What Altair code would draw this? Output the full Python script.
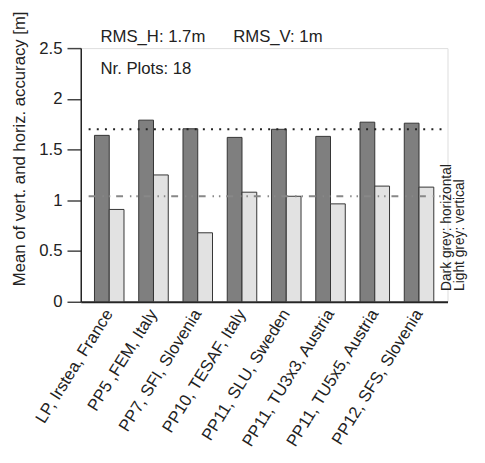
import altair as alt
import pandas as pd

sites = ["LP, Irstea, France", "PP5 ,FEM, Italy", "PP7, SFI, Slovenia", "PP10, TESAF, Italy",
         "PP11, SLU, Sweden", "PP11, TU3x3, Austria", "PP11, TU5x5, Austria", "PP12, SFS, Slovenia"]
horizontal = [1.64, 1.79, 1.705, 1.62, 1.70, 1.63, 1.77, 1.76]
vertical = [0.91, 1.25, 0.68, 1.08, 1.04, 0.965, 1.14, 1.13]
types = ["horizontal", "vertical"]
rms_h = 1.70
rms_v = 1.04
annotations = ["RMS_H: 1.7m", "RMS_V: 1m", "Nr. Plots: 18"]
side_labels = ["Dark grey: horizontal", "Light grey: vertical"]

rows = []
for s, h, v in zip(sites, horizontal, vertical):
    rows.append({"site": s, "type": "horizontal", "value": h})
    rows.append({"site": s, "type": "vertical", "value": v})
df = pd.DataFrame(rows)

W, H = 373, 258
FONT = "Liberation Sans"
FS = 17

bars = alt.Chart(df).mark_bar(stroke="#333", strokeWidth=1).encode(
    x=alt.X("site:N", sort=sites, title=None,
            scale=alt.Scale(paddingInner=0.333, paddingOuter=0.31),
            axis=alt.Axis(labelAngle=-58, labelAlign="right", labelBaseline="middle",
                          labelPadding=9, ticks=False, labelFontSize=FS, labelColor="#222",
                          domainColor="#222", domainWidth=2, labelFont=FONT, labelLimit=300)),
    xOffset=alt.XOffset("type:N", sort=types, scale=alt.Scale(paddingInner=0, paddingOuter=0)),
    y=alt.Y("value:Q", scale=alt.Scale(domain=[0, 2.5], nice=False),
            title="Mean of vert. and horiz. accuracy [m]",
            axis=alt.Axis(values=[0, 0.5, 1, 1.5, 2, 2.5], format="~g", tickSize=14,
                          tickColor="#444", tickWidth=1.5, labelPadding=5, labelFontSize=FS,
                          labelColor="#222", domainColor="#222", domainWidth=1.5,
                          grid=False, titleFontSize=FS, titleFontWeight="normal",
                          titleColor="#222", titleX=-62, titleY=102, titleAngle=270,
                          titleAlign="center", titleBaseline="middle", labelFont=FONT,
                          titleFont=FONT)),
    color=alt.Color("type:N", scale=alt.Scale(domain=types, range=["#7f7f7f", "#e2e2e2"]),
                    legend=None),
)

rule_h = alt.Chart(pd.DataFrame({"v": [rms_h]})).mark_rule(
    color="#222", strokeWidth=2, strokeDash=[2, 6.3]
).encode(y="v:Q", x=alt.value(8), x2=alt.value(W))

rule_v = alt.Chart(pd.DataFrame({"v": [rms_v]})).mark_rule(
    color="#888", strokeWidth=2, strokeDash=[7, 7, 1.5, 5, 1.5, 6]
).encode(y="v:Q", x=alt.value(8), x2=alt.value(W))

t1 = alt.Chart(pd.DataFrame({"t": [annotations[0]]})).mark_text(
    align="left", baseline="alphabetic", fontSize=FS, font=FONT, color="#222"
).encode(text="t:N", x=alt.value(20), y=alt.value(-6))
t2 = alt.Chart(pd.DataFrame({"t": [annotations[1]]})).mark_text(
    align="left", baseline="alphabetic", fontSize=FS, font=FONT, color="#222"
).encode(text="t:N", x=alt.value(155), y=alt.value(-6))
t3 = alt.Chart(pd.DataFrame({"t": [annotations[2]]})).mark_text(
    align="left", baseline="alphabetic", fontSize=FS, font=FONT, color="#222"
).encode(text="t:N", x=alt.value(20), y=alt.value(26))

s1 = alt.Chart(pd.DataFrame({"t": [side_labels[0]]})).mark_text(
    align="left", baseline="alphabetic", angle=270, fontSize=14, font=FONT, color="#222"
).encode(text="t:N", x=alt.value(377), y=alt.value(247))
s2 = alt.Chart(pd.DataFrame({"t": [side_labels[1]]})).mark_text(
    align="left", baseline="alphabetic", angle=270, fontSize=14, font=FONT, color="#222"
).encode(text="t:N", x=alt.value(390), y=alt.value(247))

chart = alt.layer(bars, rule_h, rule_v, t1, t2, t3, s1, s2).properties(
    width=W, height=H,
    autosize=alt.AutoSizeParams(type="none"),
    padding={"left": 74, "top": 37, "right": 30, "bottom": 150},
).configure_view(stroke=None).configure(font=FONT, background="white")

chart.save("out.html", embed_options={"renderer": "svg", "actions": False})
